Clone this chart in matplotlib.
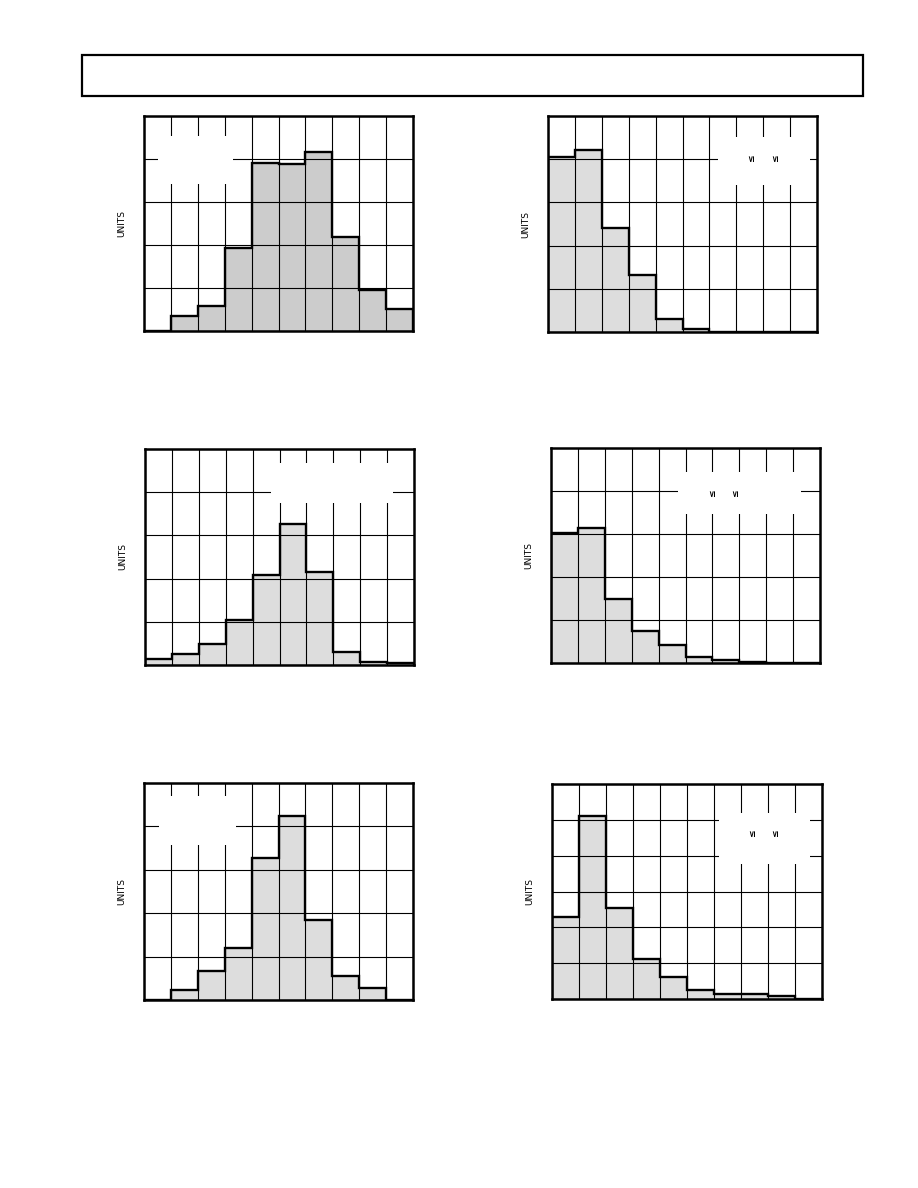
import matplotlib
matplotlib.use('Agg')
import matplotlib.pyplot as plt
from matplotlib.patches import Rectangle

W, H = 918, 1188

# bin heights in grid units (10 bins each)
units_a = [0.0, 0.35, 0.58, 1.92, 3.91, 3.89, 4.17, 2.18, 0.96, 0.50]
units_b = [4.06, 4.21, 2.40, 1.31, 0.31, 0.07, 0.0, 0.0, 0.0, 0.0]
units_c = [0.15, 0.26, 0.49, 1.04, 2.09, 3.27, 2.16, 0.29, 0.08, 0.04]
units_d = [3.03, 3.13, 1.49, 0.75, 0.41, 0.13, 0.06, 0.02, 0.0, 0.0]
units_e = [0.0, 0.23, 0.66, 1.20, 3.27, 4.23, 1.85, 0.56, 0.27, 0.0]
units_f = [2.28, 5.10, 2.53, 1.13, 0.61, 0.24, 0.15, 0.15, 0.07, 0.0]

ylabel = 'UNITS'
sym = '\u2264'

# panel: (values, rows, fill, axes box px (x0, y0, x1, y1), white box, symbol positions)
panels = [
    (units_a, 5, '#cccccc', (144, 116, 413, 331), (0.52, 3.43, 3.31, 4.54), []),
    (units_b, 5, '#dddddd', (548, 116, 817, 332), (6.32, 3.41, 9.74, 4.52), [(7.58, 4.03), (8.44, 4.03)]),
    (units_c, 5, '#dddddd', (145, 449, 414, 665), (4.70, 3.75, 9.22, 4.68), []),
    (units_d, 5, '#dddddd', (551, 448, 820, 663), (4.72, 3.47, 9.29, 4.44), [(5.99, 3.95), (6.87, 3.95)]),
    (units_e, 5, '#dddddd', (144, 783, 413, 1000), (0.56, 3.57, 3.42, 4.70), []),
    (units_f, 6, '#dddddd', (552, 784, 822, 999), (6.19, 3.77, 9.56, 5.19), [(7.41, 4.63), (8.26, 4.63)]),
]

fig = plt.figure(figsize=(W / 100, H / 100), dpi=100)

# header frame
fig.add_artist(Rectangle((82 / W, 1 - 96 / H), (863 - 82) / W, (96 - 55) / H,
                         transform=fig.transFigure, fill=False, lw=1.6, ec='black'))

for vals, rows, fc, (x0, y0, x1, y1), box, syms in panels:
    ax = fig.add_axes([x0 / W, 1 - y1 / H, (x1 - x0) / W, (y1 - y0) / H])
    edges = list(range(len(vals) + 1))
    ax.stairs(vals, edges, fill=True, color=fc, zorder=1)
    ax.stairs(vals, edges, baseline=0, color='black', lw=1.7, zorder=3)
    ax.set_xlim(0, 10)
    ax.set_ylim(0, rows)
    ax.set_xticks(range(11))
    ax.set_yticks(range(rows + 1))
    ax.tick_params(length=0, labelbottom=False, labelleft=False)
    ax.set_axisbelow(False)
    ax.grid(True, color='black', lw=0.8)
    bx0, by0, bx1, by1 = box
    ax.add_patch(Rectangle((bx0, by0), bx1 - bx0, by1 - by0, fc='white', ec='none', zorder=2.7))
    for sx, sy in syms:
        ax.text(sx, sy, sym, rotation=90, fontsize=6.5, fontweight='bold',
                ha='center', va='center', zorder=4)
    for s in ax.spines.values():
        s.set_linewidth(1.8)
        s.set_zorder(5)
    fig.text((x0 - 22) / W, 1 - (y0 + y1) / 2 / H, ylabel, rotation=90,
             fontsize=6.5, ha='center', va='center')

fig.savefig('out.png', dpi=100)
